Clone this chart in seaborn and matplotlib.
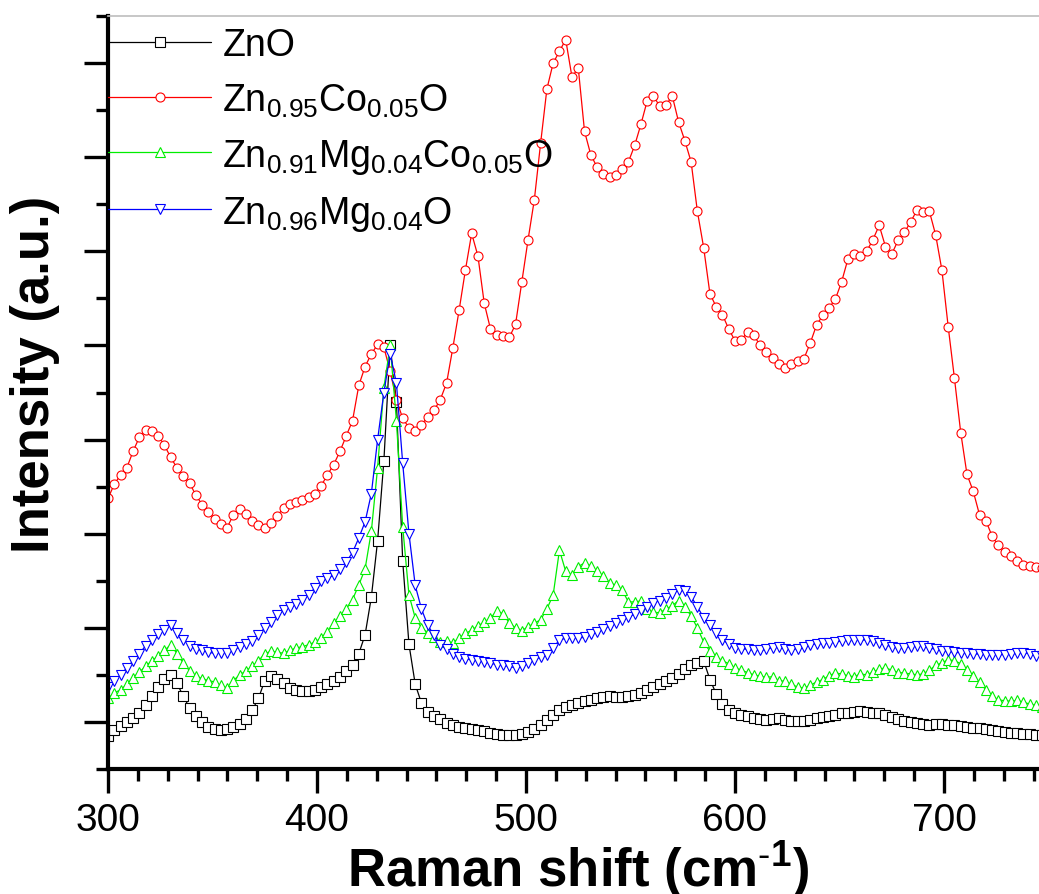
import matplotlib
matplotlib.use("Agg")
import matplotlib.pyplot as plt
from matplotlib.ticker import MultipleLocator, NullFormatter
import seaborn as sns
import pandas as pd

# Raman shift grid (cm^-1), sampled every 3 cm^-1
shift = list(range(300, 748, 3))

zno = [
    -0.30, -0.18, -0.08, 0.00, 0.08, 0.20, 0.35, 0.55, 0.75, 0.92,
    1.00, 0.82, 0.55, 0.30, 0.12, 0.00, -0.10, -0.14, -0.17, -0.15,
    -0.10, -0.04, 0.06, 0.25, 0.50, 0.88, 0.98, 0.92, 0.82, 0.72,
    0.68, 0.66, 0.66, 0.68, 0.74, 0.80, 0.88, 0.96, 1.08, 1.22,
    1.45, 1.85, 2.65, 3.85, 5.55, 8.00, 6.80, 3.42, 1.65, 0.80,
    0.40, 0.22, 0.12, 0.06, -0.02, -0.07, -0.10, -0.13, -0.16, -0.18,
    -0.20, -0.24, -0.26, -0.27, -0.28, -0.27, -0.26, -0.22, -0.15, -0.06,
    0.04, 0.15, 0.26, 0.32, 0.36, 0.40, 0.44, 0.47, 0.50, 0.54,
    0.55, 0.52, 0.52, 0.55, 0.58, 0.62, 0.68, 0.74, 0.80, 0.86,
    0.94, 1.02, 1.12, 1.20, 1.26, 1.30, 0.90, 0.60, 0.38, 0.25,
    0.18, 0.14, 0.12, 0.08, 0.06, 0.04, 0.06, 0.08, 0.04, 0.02,
    0.02, 0.03, 0.05, 0.08, 0.10, 0.12, 0.15, 0.18, 0.20, 0.22,
    0.23, 0.22, 0.20, 0.18, 0.14, 0.10, 0.06, 0.03, 0.00, -0.02,
    -0.04, -0.06, -0.05, -0.04, -0.06, -0.07, -0.08, -0.10, -0.12, -0.13,
    -0.15, -0.18, -0.20, -0.22, -0.23, -0.24, -0.25, -0.26, -0.27, -0.28,
]

zn_co = [
    4.75, 5.05, 5.25, 5.40, 5.75, 6.05, 6.20, 6.18, 6.08, 5.88,
    5.62, 5.40, 5.22, 5.08, 4.82, 4.62, 4.46, 4.32, 4.20, 4.13,
    4.40, 4.52, 4.42, 4.28, 4.18, 4.13, 4.22, 4.38, 4.55, 4.64,
    4.68, 4.72, 4.78, 4.85, 5.02, 5.25, 5.47, 5.75, 6.08, 6.40,
    7.15, 7.55, 7.82, 8.02, 7.96, 7.45, 6.85, 6.45, 6.25, 6.18,
    6.32, 6.48, 6.62, 6.85, 7.20, 7.95, 8.75, 9.60, 10.38, 9.90,
    8.90, 8.35, 8.23, 8.20, 8.17, 8.45, 9.35, 10.25, 11.10, 12.30,
    13.45, 14.00, 14.25, 14.50, 13.70, 13.90, 12.55, 12.05, 11.79, 11.65,
    11.57, 11.62, 11.75, 11.90, 12.25, 12.70, 13.20, 13.30, 13.08, 13.11,
    13.30, 12.75, 12.35, 11.90, 10.85, 10.08, 9.10, 8.82, 8.65, 8.35,
    8.10, 8.12, 8.28, 8.22, 8.00, 7.85, 7.74, 7.60, 7.53, 7.60,
    7.66, 7.72, 8.05, 8.43, 8.64, 8.80, 8.98, 9.35, 9.83, 9.95,
    9.90, 10.00, 10.25, 10.55, 10.10, 9.94, 10.23, 10.40, 10.62, 10.87,
    10.83, 10.85, 10.35, 9.60, 8.40, 7.30, 6.15, 5.26, 4.90, 4.40,
    4.28, 3.95, 3.75, 3.62, 3.52, 3.42, 3.34, 3.32, 3.30, 3.28,
]

zn_mg_co = [
    0.50, 0.62, 0.68, 0.80, 0.94, 1.06, 1.18, 1.30, 1.40, 1.52,
    1.64, 1.45, 1.25, 1.09, 0.98, 0.92, 0.88, 0.85, 0.78, 0.72,
    0.88, 1.00, 1.08, 1.18, 1.30, 1.45, 1.50, 1.48, 1.46, 1.52,
    1.57, 1.60, 1.64, 1.70, 1.78, 1.92, 2.10, 2.25, 2.40, 2.60,
    2.91, 3.25, 4.05, 5.40, 7.10, 8.00, 6.40, 4.15, 2.70, 2.21,
    2.00, 1.90, 1.80, 1.70, 1.72, 1.68, 1.78, 1.88, 1.95, 2.04,
    2.12, 2.21, 2.35, 2.30, 2.10, 2.00, 1.94, 2.02, 2.10, 2.17,
    2.40, 2.70, 3.65, 3.20, 3.12, 3.30, 3.38, 3.32, 3.20, 3.10,
    2.96, 2.90, 2.80, 2.55, 2.55, 2.57, 2.40, 2.33, 2.32, 2.40,
    2.47, 2.58, 2.45, 2.25, 2.00, 1.70, 1.50, 1.38, 1.30, 1.24,
    1.15, 1.10, 1.05, 1.00, 0.97, 0.95, 0.96, 0.88, 0.86, 0.80,
    0.74, 0.72, 0.78, 0.85, 0.90, 0.98, 1.04, 1.02, 0.98, 0.96,
    1.02, 1.00, 1.06, 1.12, 1.15, 1.10, 1.05, 1.04, 1.02, 1.00,
    1.02, 1.10, 1.20, 1.26, 1.32, 1.30, 1.24, 1.10, 0.98, 0.85,
    0.68, 0.55, 0.47, 0.45, 0.44, 0.46, 0.42, 0.38, 0.35, 0.32,
]

zn_mg = [
    0.75, 0.88, 1.00, 1.15, 1.30, 1.45, 1.62, 1.74, 1.86, 1.96,
    2.06, 1.90, 1.75, 1.62, 1.55, 1.52, 1.48, 1.46, 1.47, 1.47,
    1.52, 1.60, 1.66, 1.72, 1.85, 2.00, 2.12, 2.28, 2.38, 2.45,
    2.50, 2.60, 2.70, 2.85, 3.00, 3.05, 3.12, 3.25, 3.40, 3.60,
    3.91, 4.25, 4.85, 6.00, 7.00, 7.82, 7.20, 5.50, 4.00, 2.90,
    2.40, 2.05, 1.85, 1.64, 1.55, 1.45, 1.37, 1.34, 1.32, 1.30,
    1.28, 1.25, 1.22, 1.20, 1.18, 1.15, 1.18, 1.25, 1.32, 1.38,
    1.43, 1.58, 1.74, 1.78, 1.79, 1.78, 1.80, 1.86, 1.92, 1.98,
    2.04, 2.10, 2.16, 2.22, 2.30, 2.37, 2.45, 2.53, 2.58, 2.64,
    2.72, 2.81, 2.78, 2.66, 2.45, 2.21, 2.05, 1.90, 1.75, 1.65,
    1.58, 1.56, 1.54, 1.53, 1.52, 1.54, 1.58, 1.60, 1.55, 1.53,
    1.56, 1.60, 1.64, 1.66, 1.67, 1.68, 1.70, 1.72, 1.74, 1.75,
    1.74, 1.74, 1.72, 1.68, 1.64, 1.60, 1.57, 1.57, 1.60, 1.62,
    1.62, 1.58, 1.54, 1.51, 1.50, 1.48, 1.47, 1.46, 1.45, 1.44,
    1.43, 1.43, 1.43, 1.43, 1.44, 1.46, 1.47, 1.45, 1.41, 1.40,
]

labels = [
    "ZnO",
    r"Zn$_{0.95}$Co$_{0.05}$O",
    r"Zn$_{0.91}$Mg$_{0.04}$Co$_{0.05}$O",
    r"Zn$_{0.96}$Mg$_{0.04}$O",
]
series = [zno, zn_co, zn_mg_co, zn_mg]
colors = ["#000000", "#FF0000", "#00EE00", "#0000FF"]
markers = ["s", "o", "^", "v"]

x_ticks = [300, 400, 500, 600, 700]

sns.set_style("white")
plt.rcParams["font.family"] = ["Liberation Sans", "DejaVu Sans"]
plt.rcParams["mathtext.fontset"] = "custom"
plt.rcParams["mathtext.rm"] = "Liberation Sans"
plt.rcParams["mathtext.it"] = "Liberation Sans:italic"
plt.rcParams["mathtext.bf"] = "Liberation Sans:bold"
plt.rcParams["mathtext.default"] = "regular"
plt.rcParams["text.color"] = "black"
plt.rcParams["axes.labelcolor"] = "black"
plt.rcParams["xtick.color"] = "black"
plt.rcParams["ytick.color"] = "black"

fig = plt.figure(figsize=(10.39, 8.95), dpi=100)
W, H = 1039, 895
ax = fig.add_axes([108 / W, 1 - 770 / H, (1048.5 - 108) / W, (770 - 17) / H])

for lab, vals, col, mk in zip(labels, series, colors, markers):
    df = pd.DataFrame({"shift": shift, "intensity": vals})
    sns.lineplot(data=df, x="shift", y="intensity", ax=ax, color=col,
                 marker=mk, markersize=6.5, markerfacecolor="white",
                 markeredgecolor=col, markeredgewidth=0.8, linewidth=0.9,
                 label=lab, errorbar=None, sort=False)

ax.set_xlim(300, 750)
ax.set_ylim(-1, 15)
ax.set_xticks(x_ticks)
ax.xaxis.set_minor_locator(MultipleLocator(100 / 7))
ax.yaxis.set_major_locator(MultipleLocator(2))
ax.yaxis.set_minor_locator(MultipleLocator(1))
ax.yaxis.set_major_formatter(NullFormatter())

ax.tick_params(axis="both", which="major", direction="out", length=17,
               width=2.4, color="black", labelcolor="black", labelsize=28, pad=7)
ax.tick_params(axis="both", which="minor", direction="out", length=8.5,
               width=2.4, color="black")
ax.tick_params(axis="x", which="both", bottom=True, top=False)
ax.tick_params(axis="y", which="both", left=True, right=False)

for s in ["left", "bottom"]:
    ax.spines[s].set_linewidth(3)
    ax.spines[s].set_color("black")
ax.spines["top"].set_color("#bdbdbd")
ax.spines["top"].set_linewidth(1.2)
ax.spines["right"].set_visible(False)

ax.set_xlabel(r"Raman shift (cm$^{\text{-}1}$)", fontsize=38, fontweight="bold",
              color="black")
ax.set_ylabel("Intensity (a.u.)", fontsize=38, fontweight="bold", color="black")
ax.xaxis.set_label_coords(0.5, -0.092)
ax.yaxis.set_label_coords(-0.051, 0.525)

leg = ax.legend(loc="upper left", bbox_to_anchor=(-0.012, 1.0), frameon=False,
                fontsize=27, handlelength=2.75, handletextpad=0.3,
                labelspacing=0.48, borderaxespad=0.0, borderpad=0.3,
                numpoints=1)
for t in leg.get_texts():
    t.set_color("black")

fig.savefig("out.png", dpi=100)
